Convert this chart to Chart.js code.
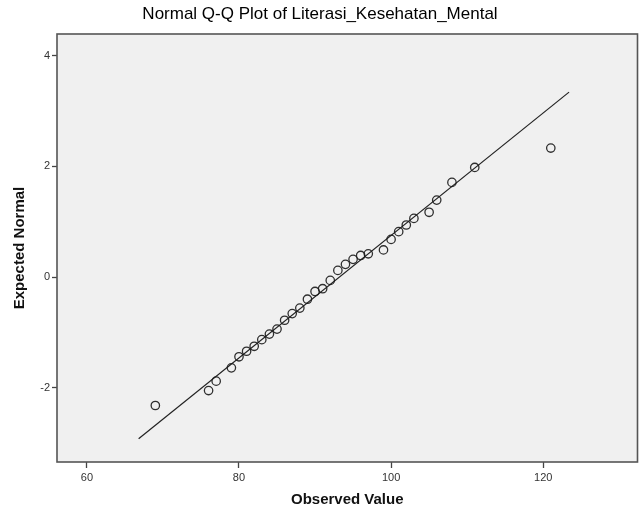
<!DOCTYPE html>
<html><head><meta charset="utf-8">
<script src="https://cdn.jsdelivr.net/npm/chart.js@4"></script>
<style>html,body{margin:0;padding:0;background:#fff;}</style>
</head><body>
<canvas id="c" width="643" height="513" style="display:block;width:643px;height:513px"></canvas>
<script>
const observed = [69, 76, 77, 79, 80, 81, 82, 83, 84, 85, 86, 87, 88, 89, 90, 91, 92, 93, 94, 95, 96, 97, 99, 100, 101, 102, 103, 105, 106, 108, 111, 121];
const expected = [-2.32, -2.05, -1.88, -1.64, -1.44, -1.34, -1.25, -1.13, -1.03, -0.94, -0.78, -0.66, -0.56, -0.40, -0.26, -0.21, -0.06, 0.12, 0.23, 0.32, 0.39, 0.42, 0.49, 0.68, 0.82, 0.94, 1.06, 1.17, 1.39, 1.71, 1.98, 2.33];
const lineObserved = [66.8, 123.4];
const lineExpected = [-2.92, 3.34];
const xTicks = [60, 80, 100, 120];
const yTicks = [-2, 0, 2, 4];
const xRange = [56.07, 132.4];
const yRange = [-3.34, 4.39];
const chartTitle = 'Normal Q-Q Plot of Literasi_Kesehatan_Mental';
const xTitle = 'Observed Value';
const yTitle = 'Expected Normal';

const FONT = "'Liberation Sans', Arial, sans-serif";

const framePlugin = {
  id: 'frame',
  beforeDraw(chart) {
    const {ctx, chartArea: a} = chart;
    ctx.save();
    ctx.fillStyle = '#f0f0f0';
    ctx.fillRect(a.left, a.top, a.right - a.left, a.bottom - a.top);
    ctx.restore();
  },
  afterDraw(chart) {
    const {ctx, chartArea: a} = chart;
    ctx.save();
    ctx.strokeStyle = '#555555';
    ctx.lineWidth = 1.6;
    ctx.strokeRect(a.left, a.top, a.right - a.left, a.bottom - a.top);
    ctx.restore();
  }
};

new Chart(document.getElementById('c'), {
  type: 'scatter',
  data: {
    datasets: [
      {
        label: 'Observed',
        data: observed.map((v, i) => ({x: v, y: expected[i]})),
        pointStyle: 'circle',
        pointRadius: 4.2,
        pointBorderWidth: 1.3,
        pointBorderColor: 'rgba(25,25,25,0.9)',
        pointBackgroundColor: 'rgba(0,0,0,0)',
        showLine: false
      },
      {
        label: 'Line',
        data: lineObserved.map((v, i) => ({x: v, y: lineExpected[i]})),
        showLine: true,
        borderColor: '#222222',
        borderWidth: 1.2,
        pointRadius: 0,
        fill: false
      }
    ]
  },
  options: {
    responsive: false,
    animation: false,
    devicePixelRatio: 1,
    layout: {padding: {left: 0, right: 3, top: 0, bottom: 0}},
    plugins: {
      legend: {display: false},
      tooltip: {enabled: false},
      title: {
        display: true,
        text: chartTitle,
        color: '#000',
        font: {family: FONT, size: 17, weight: 'normal'},
        padding: {top: 4, bottom: 9.6}
      }
    },
    scales: {
      x: {
        type: 'linear',
        min: xRange[0], max: xRange[1],
        afterBuildTicks(s) { s.ticks = xTicks.map(v => ({value: v})); },
        afterFit(s) { s.height = 51; },
        border: {display: false},
        grid: {drawOnChartArea: false, drawTicks: true, tickLength: 6, color: '#444', tickWidth: 1.3},
        ticks: {color: '#333', font: {family: FONT, size: 11}, padding: 3, maxRotation: 0},
        title: {display: true, text: xTitle, color: '#111', font: {family: FONT, size: 15, weight: 'bold'}, padding: {top: 0, bottom: 4}}
      },
      y: {
        type: 'linear',
        min: yRange[0], max: yRange[1],
        afterBuildTicks(s) { s.ticks = yTicks.map(v => ({value: v})); },
        afterFit(s) { s.width = 57; },
        border: {display: false},
        grid: {drawOnChartArea: false, drawTicks: true, tickLength: 5, color: '#444', tickWidth: 1.3},
        ticks: {color: '#333', font: {family: FONT, size: 11}, padding: 2},
        title: {display: true, text: yTitle, color: '#111', font: {family: FONT, size: 15, weight: 'bold'}, padding: {top: 11, bottom: 0}}
      }
    }
  },
  plugins: [framePlugin]
});
</script>
</body></html>
